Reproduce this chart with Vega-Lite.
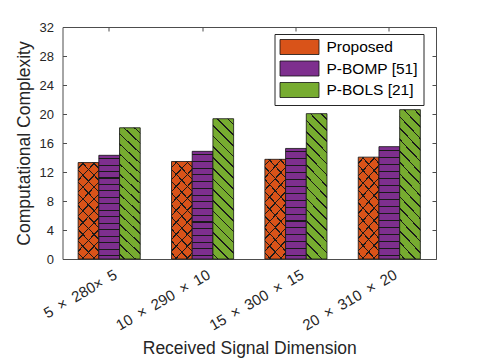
{
  "$schema": "https://vega.github.io/schema/vega-lite/v6.json",
  "width": 373.5,
  "height": 232,
  "autosize": {"type": "none"},
  "padding": {"left": 62.5, "top": 27, "right": 46, "bottom": 102},
  "background": "white",
  "config": {
    "font": "Liberation Sans",
    "view": {"stroke": "#4d4d4d", "strokeWidth": 1},
    "axis": {"grid": false, "domain": false, "tickColor": "#4d4d4d", "tickSize": -4, "labelColor": "#262626", "titleColor": "#262626", "labelFont": "Liberation Sans", "titleFont": "Liberation Sans", "titleFontWeight": "normal", "labelFontSize": 13, "titleFontSize": 17.5}
  },
  "data": {"values": [
    {"dim": "5\u2002×\u2002280×\u20025", "series": "Proposed", "value": 13.3},
    {"dim": "5\u2002×\u2002280×\u20025", "series": "P-BOMP [51]", "value": 14.3},
    {"dim": "5\u2002×\u2002280×\u20025", "series": "P-BOLS [21]", "value": 18.1},
    {"dim": "10\u2002×\u2002290\u2002×\u200210", "series": "Proposed", "value": 13.45},
    {"dim": "10\u2002×\u2002290\u2002×\u200210", "series": "P-BOMP [51]", "value": 14.85},
    {"dim": "10\u2002×\u2002290\u2002×\u200210", "series": "P-BOLS [21]", "value": 19.35},
    {"dim": "15\u2002×\u2002300\u2002×\u200215", "series": "Proposed", "value": 13.75},
    {"dim": "15\u2002×\u2002300\u2002×\u200215", "series": "P-BOMP [51]", "value": 15.25},
    {"dim": "15\u2002×\u2002300\u2002×\u200215", "series": "P-BOLS [21]", "value": 20.05},
    {"dim": "20\u2002×\u2002310\u2002×\u200220", "series": "Proposed", "value": 14.05},
    {"dim": "20\u2002×\u2002310\u2002×\u200220", "series": "P-BOMP [51]", "value": 15.5},
    {"dim": "20\u2002×\u2002310\u2002×\u200220", "series": "P-BOLS [21]", "value": 20.6}
  ]},
  "resolve": {"axis": {"x": "independent", "y": "independent"}},
  "layer": [
    {
      "mark": {"type": "bar", "stroke": "#111", "strokeWidth": 0.8},
      "encoding": {
        "x": {"field": "dim", "type": "nominal", "sort": null,
              "scale": {"paddingInner": 0.335, "paddingOuter": 0.1675},
              "axis": {"title": "Received Signal Dimension", "labelAngle": -30, "labelAlign": "right", "labelBaseline": "top", "labelFontSize": 15, "labelPadding": 12, "labelOffset": 3, "titlePadding": 7}},
        "xOffset": {"field": "series", "type": "nominal", "scale": {"domain": ["Proposed", "P-BOMP [51]", "P-BOLS [21]"], "paddingInner": 0, "paddingOuter": 0}},
        "y": {"field": "value", "type": "quantitative",
              "scale": {"domain": [0, 32], "nice": false},
              "axis": {"title": "Computational Complexity", "values": [0, 4, 8, 12, 16, 20, 24, 28, 32], "labelPadding": 13, "titlePadding": 6}},
        "color": {"field": "series", "type": "nominal",
                  "scale": {"domain": ["Proposed", "P-BOMP [51]", "P-BOLS [21]"], "range": ["#D95319", "#7E2F8E", "#77AC30"]},
                  "legend": {"title": null, "orient": "none", "legendX": 212, "legendY": 7,
                             "symbolType": "M-1,-1H4.2V1H-1Z", "symbolSize": 225, "symbolStrokeColor": "#111", "symbolStrokeWidth": 0.8,
                             "labelFontSize": 15.5, "labelFont": "Liberation Sans", "labelColor": "#000", "labelOffset": 31,
                             "rowPadding": 1.5, "padding": 5, "strokeColor": "#262626", "fillColor": "white"}}
      }
    },
    {
      "transform": [{"filter": "datum.series === 'Proposed'"}],
      "mark": {"type": "bar", "strokeWidth": 0, "fill": {"gradient": "linear", "x1": 0, "y1": 1, "x2": 0.266, "y2": -0.167, "stops": [
        {"offset": 0, "color": "rgba(0,0,0,0)"},
        {"offset": 0.044, "color": "rgba(0,0,0,0)"}, {"offset": 0.044, "color": "#1a1a1a"}, {"offset": 0.056, "color": "#1a1a1a"}, {"offset": 0.056, "color": "rgba(0,0,0,0)"},
        {"offset": 0.144, "color": "rgba(0,0,0,0)"}, {"offset": 0.144, "color": "#1a1a1a"}, {"offset": 0.156, "color": "#1a1a1a"}, {"offset": 0.156, "color": "rgba(0,0,0,0)"},
        {"offset": 0.244, "color": "rgba(0,0,0,0)"}, {"offset": 0.244, "color": "#1a1a1a"}, {"offset": 0.256, "color": "#1a1a1a"}, {"offset": 0.256, "color": "rgba(0,0,0,0)"},
        {"offset": 0.344, "color": "rgba(0,0,0,0)"}, {"offset": 0.344, "color": "#1a1a1a"}, {"offset": 0.356, "color": "#1a1a1a"}, {"offset": 0.356, "color": "rgba(0,0,0,0)"},
        {"offset": 0.444, "color": "rgba(0,0,0,0)"}, {"offset": 0.444, "color": "#1a1a1a"}, {"offset": 0.456, "color": "#1a1a1a"}, {"offset": 0.456, "color": "rgba(0,0,0,0)"},
        {"offset": 0.544, "color": "rgba(0,0,0,0)"}, {"offset": 0.544, "color": "#1a1a1a"}, {"offset": 0.556, "color": "#1a1a1a"}, {"offset": 0.556, "color": "rgba(0,0,0,0)"},
        {"offset": 0.644, "color": "rgba(0,0,0,0)"}, {"offset": 0.644, "color": "#1a1a1a"}, {"offset": 0.656, "color": "#1a1a1a"}, {"offset": 0.656, "color": "rgba(0,0,0,0)"},
        {"offset": 0.744, "color": "rgba(0,0,0,0)"}, {"offset": 0.744, "color": "#1a1a1a"}, {"offset": 0.756, "color": "#1a1a1a"}, {"offset": 0.756, "color": "rgba(0,0,0,0)"},
        {"offset": 0.844, "color": "rgba(0,0,0,0)"}, {"offset": 0.844, "color": "#1a1a1a"}, {"offset": 0.856, "color": "#1a1a1a"}, {"offset": 0.856, "color": "rgba(0,0,0,0)"},
        {"offset": 0.944, "color": "rgba(0,0,0,0)"}, {"offset": 0.944, "color": "#1a1a1a"}, {"offset": 0.956, "color": "#1a1a1a"}, {"offset": 0.956, "color": "rgba(0,0,0,0)"},
        {"offset": 1, "color": "rgba(0,0,0,0)"}
      ]}},
      "encoding": {
        "x": {"field": "dim", "type": "nominal", "sort": null, "scale": {"paddingInner": 0.335, "paddingOuter": 0.1675},
              "axis": {"orient": "top", "labels": false, "title": null}},
        "xOffset": {"field": "series", "type": "nominal", "scale": {"domain": ["Proposed", "P-BOMP [51]", "P-BOLS [21]"]}},
        "y": {"field": "value", "type": "quantitative", "scale": {"domain": [0, 32], "nice": false},
              "axis": {"orient": "right", "labels": false, "title": null, "values": [0, 4, 8, 12, 16, 20, 24, 28, 32]}}
      }
    },
    {
      "transform": [{"filter": "datum.series === 'Proposed'"}],
      "mark": {"type": "bar", "strokeWidth": 0, "fill": {"gradient": "linear", "x1": 0, "y1": 0, "x2": 0.266, "y2": 1.167, "stops": [
        {"offset": 0, "color": "rgba(0,0,0,0)"},
        {"offset": 0.044, "color": "rgba(0,0,0,0)"}, {"offset": 0.044, "color": "#1a1a1a"}, {"offset": 0.056, "color": "#1a1a1a"}, {"offset": 0.056, "color": "rgba(0,0,0,0)"},
        {"offset": 0.144, "color": "rgba(0,0,0,0)"}, {"offset": 0.144, "color": "#1a1a1a"}, {"offset": 0.156, "color": "#1a1a1a"}, {"offset": 0.156, "color": "rgba(0,0,0,0)"},
        {"offset": 0.244, "color": "rgba(0,0,0,0)"}, {"offset": 0.244, "color": "#1a1a1a"}, {"offset": 0.256, "color": "#1a1a1a"}, {"offset": 0.256, "color": "rgba(0,0,0,0)"},
        {"offset": 0.344, "color": "rgba(0,0,0,0)"}, {"offset": 0.344, "color": "#1a1a1a"}, {"offset": 0.356, "color": "#1a1a1a"}, {"offset": 0.356, "color": "rgba(0,0,0,0)"},
        {"offset": 0.444, "color": "rgba(0,0,0,0)"}, {"offset": 0.444, "color": "#1a1a1a"}, {"offset": 0.456, "color": "#1a1a1a"}, {"offset": 0.456, "color": "rgba(0,0,0,0)"},
        {"offset": 0.544, "color": "rgba(0,0,0,0)"}, {"offset": 0.544, "color": "#1a1a1a"}, {"offset": 0.556, "color": "#1a1a1a"}, {"offset": 0.556, "color": "rgba(0,0,0,0)"},
        {"offset": 0.644, "color": "rgba(0,0,0,0)"}, {"offset": 0.644, "color": "#1a1a1a"}, {"offset": 0.656, "color": "#1a1a1a"}, {"offset": 0.656, "color": "rgba(0,0,0,0)"},
        {"offset": 0.744, "color": "rgba(0,0,0,0)"}, {"offset": 0.744, "color": "#1a1a1a"}, {"offset": 0.756, "color": "#1a1a1a"}, {"offset": 0.756, "color": "rgba(0,0,0,0)"},
        {"offset": 0.844, "color": "rgba(0,0,0,0)"}, {"offset": 0.844, "color": "#1a1a1a"}, {"offset": 0.856, "color": "#1a1a1a"}, {"offset": 0.856, "color": "rgba(0,0,0,0)"},
        {"offset": 0.944, "color": "rgba(0,0,0,0)"}, {"offset": 0.944, "color": "#1a1a1a"}, {"offset": 0.956, "color": "#1a1a1a"}, {"offset": 0.956, "color": "rgba(0,0,0,0)"},
        {"offset": 1, "color": "rgba(0,0,0,0)"}
      ]}},
      "encoding": {
        "x": {"field": "dim", "type": "nominal", "sort": null, "scale": {"paddingInner": 0.335, "paddingOuter": 0.1675}, "axis": null},
        "xOffset": {"field": "series", "type": "nominal", "scale": {"domain": ["Proposed", "P-BOMP [51]", "P-BOLS [21]"]}},
        "y": {"field": "value", "type": "quantitative", "scale": {"domain": [0, 32], "nice": false}, "axis": null}
      }
    },
    {
      "transform": [{"filter": "datum.series === 'P-BOMP [51]'"}],
      "mark": {"type": "bar", "strokeWidth": 0, "fill": {"gradient": "linear", "x1": 0, "y1": 0, "x2": 0, "y2": 1, "stops": [
        {"offset": 0, "color": "rgba(0,0,0,0)"},
        {"offset": 0.0262, "color": "rgba(0,0,0,0)"}, {"offset": 0.0262, "color": "#1a1a1a"}, {"offset": 0.0362, "color": "#1a1a1a"}, {"offset": 0.0362, "color": "rgba(0,0,0,0)"},
        {"offset": 0.0887, "color": "rgba(0,0,0,0)"}, {"offset": 0.0887, "color": "#1a1a1a"}, {"offset": 0.0987, "color": "#1a1a1a"}, {"offset": 0.0987, "color": "rgba(0,0,0,0)"},
        {"offset": 0.1512, "color": "rgba(0,0,0,0)"}, {"offset": 0.1512, "color": "#1a1a1a"}, {"offset": 0.1612, "color": "#1a1a1a"}, {"offset": 0.1612, "color": "rgba(0,0,0,0)"},
        {"offset": 0.2137, "color": "rgba(0,0,0,0)"}, {"offset": 0.2137, "color": "#1a1a1a"}, {"offset": 0.2237, "color": "#1a1a1a"}, {"offset": 0.2237, "color": "rgba(0,0,0,0)"},
        {"offset": 0.2762, "color": "rgba(0,0,0,0)"}, {"offset": 0.2762, "color": "#1a1a1a"}, {"offset": 0.2862, "color": "#1a1a1a"}, {"offset": 0.2862, "color": "rgba(0,0,0,0)"},
        {"offset": 0.3387, "color": "rgba(0,0,0,0)"}, {"offset": 0.3387, "color": "#1a1a1a"}, {"offset": 0.3487, "color": "#1a1a1a"}, {"offset": 0.3487, "color": "rgba(0,0,0,0)"},
        {"offset": 0.4012, "color": "rgba(0,0,0,0)"}, {"offset": 0.4012, "color": "#1a1a1a"}, {"offset": 0.4112, "color": "#1a1a1a"}, {"offset": 0.4112, "color": "rgba(0,0,0,0)"},
        {"offset": 0.4637, "color": "rgba(0,0,0,0)"}, {"offset": 0.4637, "color": "#1a1a1a"}, {"offset": 0.4737, "color": "#1a1a1a"}, {"offset": 0.4737, "color": "rgba(0,0,0,0)"},
        {"offset": 0.5262, "color": "rgba(0,0,0,0)"}, {"offset": 0.5262, "color": "#1a1a1a"}, {"offset": 0.5362, "color": "#1a1a1a"}, {"offset": 0.5362, "color": "rgba(0,0,0,0)"},
        {"offset": 0.5887, "color": "rgba(0,0,0,0)"}, {"offset": 0.5887, "color": "#1a1a1a"}, {"offset": 0.5987, "color": "#1a1a1a"}, {"offset": 0.5987, "color": "rgba(0,0,0,0)"},
        {"offset": 0.6512, "color": "rgba(0,0,0,0)"}, {"offset": 0.6512, "color": "#1a1a1a"}, {"offset": 0.6612, "color": "#1a1a1a"}, {"offset": 0.6612, "color": "rgba(0,0,0,0)"},
        {"offset": 0.7137, "color": "rgba(0,0,0,0)"}, {"offset": 0.7137, "color": "#1a1a1a"}, {"offset": 0.7237, "color": "#1a1a1a"}, {"offset": 0.7237, "color": "rgba(0,0,0,0)"},
        {"offset": 0.7762, "color": "rgba(0,0,0,0)"}, {"offset": 0.7762, "color": "#1a1a1a"}, {"offset": 0.7862, "color": "#1a1a1a"}, {"offset": 0.7862, "color": "rgba(0,0,0,0)"},
        {"offset": 0.8387, "color": "rgba(0,0,0,0)"}, {"offset": 0.8387, "color": "#1a1a1a"}, {"offset": 0.8487, "color": "#1a1a1a"}, {"offset": 0.8487, "color": "rgba(0,0,0,0)"},
        {"offset": 0.9012, "color": "rgba(0,0,0,0)"}, {"offset": 0.9012, "color": "#1a1a1a"}, {"offset": 0.9112, "color": "#1a1a1a"}, {"offset": 0.9112, "color": "rgba(0,0,0,0)"},
        {"offset": 0.9637, "color": "rgba(0,0,0,0)"}, {"offset": 0.9637, "color": "#1a1a1a"}, {"offset": 0.9737, "color": "#1a1a1a"}, {"offset": 0.9737, "color": "rgba(0,0,0,0)"},
        {"offset": 1, "color": "rgba(0,0,0,0)"}
      ]}},
      "encoding": {
        "x": {"field": "dim", "type": "nominal", "sort": null, "scale": {"paddingInner": 0.335, "paddingOuter": 0.1675}, "axis": null},
        "xOffset": {"field": "series", "type": "nominal", "scale": {"domain": ["Proposed", "P-BOMP [51]", "P-BOLS [21]"]}},
        "y": {"field": "value", "type": "quantitative", "scale": {"domain": [0, 32], "nice": false}, "axis": null}
      }
    },
    {
      "transform": [{"filter": "datum.series === 'P-BOLS [21]'"}],
      "mark": {"type": "bar", "strokeWidth": 0, "fill": {"gradient": "linear", "x1": 0, "y1": 1, "x2": 0.166, "y2": -0.123, "stops": [
        {"offset": 0, "color": "rgba(0,0,0,0)"},
        {"offset": 0.0262, "color": "rgba(0,0,0,0)"}, {"offset": 0.0262, "color": "#1a1a1a"}, {"offset": 0.0362, "color": "#1a1a1a"}, {"offset": 0.0362, "color": "rgba(0,0,0,0)"},
        {"offset": 0.0929, "color": "rgba(0,0,0,0)"}, {"offset": 0.0929, "color": "#1a1a1a"}, {"offset": 0.1029, "color": "#1a1a1a"}, {"offset": 0.1029, "color": "rgba(0,0,0,0)"},
        {"offset": 0.1595, "color": "rgba(0,0,0,0)"}, {"offset": 0.1595, "color": "#1a1a1a"}, {"offset": 0.1695, "color": "#1a1a1a"}, {"offset": 0.1695, "color": "rgba(0,0,0,0)"},
        {"offset": 0.2262, "color": "rgba(0,0,0,0)"}, {"offset": 0.2262, "color": "#1a1a1a"}, {"offset": 0.2362, "color": "#1a1a1a"}, {"offset": 0.2362, "color": "rgba(0,0,0,0)"},
        {"offset": 0.2929, "color": "rgba(0,0,0,0)"}, {"offset": 0.2929, "color": "#1a1a1a"}, {"offset": 0.3029, "color": "#1a1a1a"}, {"offset": 0.3029, "color": "rgba(0,0,0,0)"},
        {"offset": 0.3595, "color": "rgba(0,0,0,0)"}, {"offset": 0.3595, "color": "#1a1a1a"}, {"offset": 0.3695, "color": "#1a1a1a"}, {"offset": 0.3695, "color": "rgba(0,0,0,0)"},
        {"offset": 0.4262, "color": "rgba(0,0,0,0)"}, {"offset": 0.4262, "color": "#1a1a1a"}, {"offset": 0.4362, "color": "#1a1a1a"}, {"offset": 0.4362, "color": "rgba(0,0,0,0)"},
        {"offset": 0.4929, "color": "rgba(0,0,0,0)"}, {"offset": 0.4929, "color": "#1a1a1a"}, {"offset": 0.5029, "color": "#1a1a1a"}, {"offset": 0.5029, "color": "rgba(0,0,0,0)"},
        {"offset": 0.5595, "color": "rgba(0,0,0,0)"}, {"offset": 0.5595, "color": "#1a1a1a"}, {"offset": 0.5695, "color": "#1a1a1a"}, {"offset": 0.5695, "color": "rgba(0,0,0,0)"},
        {"offset": 0.6262, "color": "rgba(0,0,0,0)"}, {"offset": 0.6262, "color": "#1a1a1a"}, {"offset": 0.6362, "color": "#1a1a1a"}, {"offset": 0.6362, "color": "rgba(0,0,0,0)"},
        {"offset": 0.6929, "color": "rgba(0,0,0,0)"}, {"offset": 0.6929, "color": "#1a1a1a"}, {"offset": 0.7029, "color": "#1a1a1a"}, {"offset": 0.7029, "color": "rgba(0,0,0,0)"},
        {"offset": 0.7595, "color": "rgba(0,0,0,0)"}, {"offset": 0.7595, "color": "#1a1a1a"}, {"offset": 0.7695, "color": "#1a1a1a"}, {"offset": 0.7695, "color": "rgba(0,0,0,0)"},
        {"offset": 0.8262, "color": "rgba(0,0,0,0)"}, {"offset": 0.8262, "color": "#1a1a1a"}, {"offset": 0.8362, "color": "#1a1a1a"}, {"offset": 0.8362, "color": "rgba(0,0,0,0)"},
        {"offset": 0.8929, "color": "rgba(0,0,0,0)"}, {"offset": 0.8929, "color": "#1a1a1a"}, {"offset": 0.9029, "color": "#1a1a1a"}, {"offset": 0.9029, "color": "rgba(0,0,0,0)"},
        {"offset": 0.9595, "color": "rgba(0,0,0,0)"}, {"offset": 0.9595, "color": "#1a1a1a"}, {"offset": 0.9695, "color": "#1a1a1a"}, {"offset": 0.9695, "color": "rgba(0,0,0,0)"},
        {"offset": 1, "color": "rgba(0,0,0,0)"}
      ]}},
      "encoding": {
        "x": {"field": "dim", "type": "nominal", "sort": null, "scale": {"paddingInner": 0.335, "paddingOuter": 0.1675}, "axis": null},
        "xOffset": {"field": "series", "type": "nominal", "scale": {"domain": ["Proposed", "P-BOMP [51]", "P-BOLS [21]"]}},
        "y": {"field": "value", "type": "quantitative", "scale": {"domain": [0, 32], "nice": false}, "axis": null}
      }
    }
  ]
}
